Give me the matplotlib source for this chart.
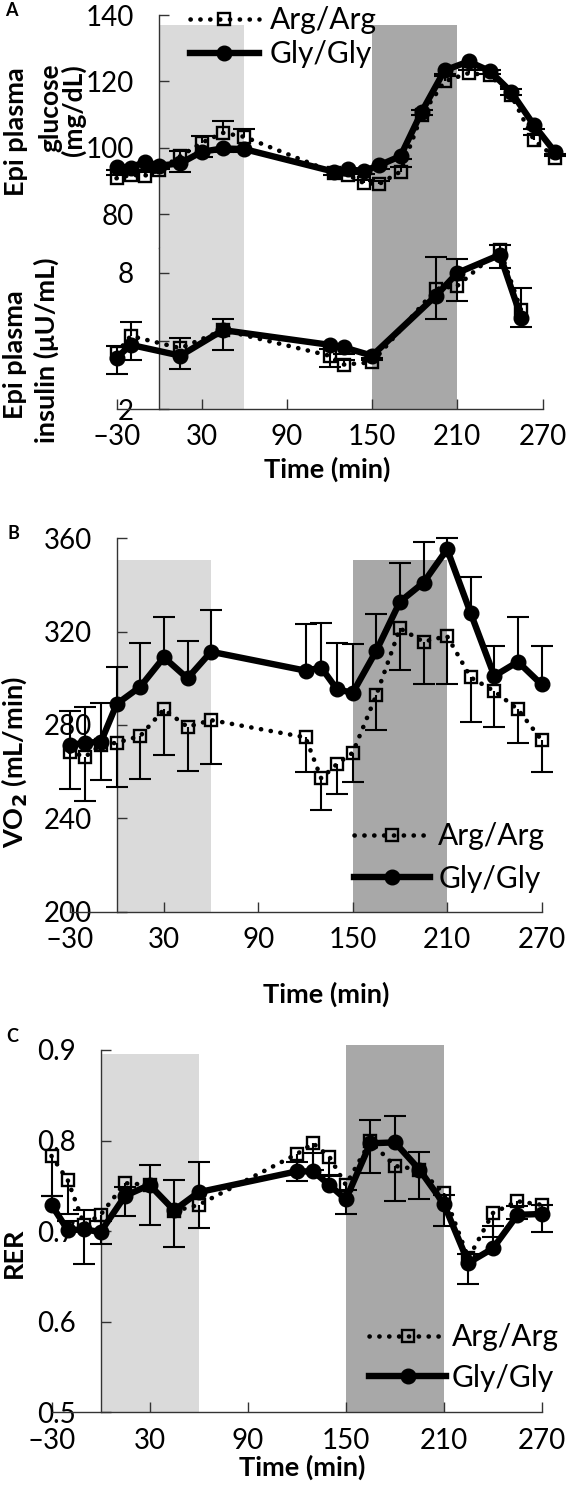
import numpy as np
import matplotlib
matplotlib.use("Agg")
import matplotlib.pyplot as plt
from matplotlib.lines import Line2D

plt.rcParams['font.family'] = ['Lato', 'DejaVu Sans']
plt.rcParams['mathtext.fontset'] = 'dejavusans'

# ---------------- data ----------------
series_names = ["Arg/Arg", "Gly/Gly"]

# Panel A - glucose
t_glu = [-30, -20, -10, 0, 15, 30, 45, 60, 123, 133, 144, 155, 170, 185, 201, 218, 233, 248, 264, 279]
glu_arg = [90.8, 91.8, 91.6, 93.3, 97.5, 101.5, 104.5, 103.3, 92.5, 91.8, 89.4, 89.1, 92.8, 109.9, 120.0, 122.5, 121.8, 115.8, 102.3, 97.0]
glu_arg_err = [1.0, 1.0, 1.0, 1.0, 1.5, 2.0, 3.6, 2.5, 1.0, 1.0, 1.0, 1.0, 1.5, 1.5, 1.5, 1.0, 1.5, 2.0, 1.5, 1.0]
glu_gly = [94.3, 94.0, 95.8, 94.6, 95.3, 98.8, 99.8, 99.6, 92.8, 93.5, 93.0, 94.7, 97.5, 110.9, 123.3, 126.0, 123.1, 116.8, 106.8, 98.6]
glu_gly_err = [1.0, 1.0, 1.0, 1.0, 2.5, 1.5, 1.0, 1.0, 1.0, 1.0, 1.0, 1.0, 1.0, 1.0, 1.0, 1.0, 1.0, 1.0, 1.0, 1.0]

# Panel A - insulin
t_ins = [-30, -20, 15, 45, 120, 130, 150, 195, 210, 240, 255]
ins_arg = [4.46, 5.22, 4.68, 5.48, 4.35, 3.96, 4.06, 7.29, 7.43, 9.03, 6.35]
ins_arg_err = [0.3, 0.6, 0.44, 0.48, 0.3, 0.2, 0.2, 1.4, 1.17, 0.2, 0.97]
ins_gly = [4.25, 4.83, 4.35, 5.48, 4.83, 4.72, 4.35, 7.0, 8.0, 8.8, 6.03]
ins_gly_err = [0.7, 0.67, 0.6, 0.9, 0.96, 0.3, 0.2, 1.04, 1.22, 0.6, 0.43]

# Panel B - VO2
t_resp = [-30, -20, -10, 0, 15, 30, 45, 60, 120, 130, 140, 150, 165, 180, 195, 210, 225, 240, 255, 270]
vo2_arg = [268.5, 266.4, 271.5, 272.4, 275.3, 286.7, 279.2, 282.1, 274.7, 257.1, 263.3, 268.1, 292.8, 321.4, 315.7, 318.1, 300.4, 294.5, 286.7, 273.6]
vo2_arg_err = [16, 19, 15, 19, 18.6, 19.6, 19, 19, 14.7, 13.5, 13, 12.7, 15, 17.8, 18, 20.5, 19, 15.3, 14.3, 13.6]
vo2_gly = [271.4, 272.4, 272.8, 289, 296.4, 309, 300, 311.4, 303.3, 304.6, 295.3, 293.8, 311.8, 332.8, 341, 355.3, 327.9, 301, 307.1, 297.4]
vo2_gly_err = [14.7, 15.4, 16.7, 16, 18.6, 17.4, 16, 18, 20, 19, 19.7, 21, 15.7, 16.5, 17.5, 5, 15.6, 12.8, 19.3, 16.4]

# Panel C - RER
rer_arg = [0.783, 0.756, 0.707, 0.718, 0.753, 0.751, 0.722, 0.729, 0.785, 0.797, 0.782, 0.751, 0.799, 0.772, 0.768, 0.742, 0.670, 0.720, 0.733, 0.729]
rer_arg_err = [0.044, 0.037, 0.043, 0.032, 0.036, 0.044, 0.039, 0.026, 0.030, 0.030, 0.020, 0.032, 0.035, 0.039, 0.033, 0.036, 0.028, 0.026, 0.020, 0.030]
rer_gly = [0.729, 0.701, 0.702, 0.699, 0.739, 0.751, 0.723, 0.743, 0.766, 0.766, 0.751, 0.735, 0.797, 0.798, 0.768, 0.730, 0.665, 0.681, 0.718, 0.719]
rer_gly_err = [0.010, 0.010, 0.021, 0.012, 0.010, 0.022, 0.034, 0.033, 0.010, 0.020, 0.010, 0.010, 0.026, 0.029, 0.019, 0.010, 0.010, 0.025, 0.010, 0.010]

shade_start = [0, 150]
shade_end = [60, 210]
shade_colors = ["#dadada", "#a8a8a8"]

x_ticks = [-30, 30, 90, 150, 210, 270]
x_ticklabels = ["\u201330", "30", "90", "150", "210", "270"]

# ---------------- style ----------------
FS_TICK = 20
FS_LAB = 19.5
FS_LEG = 21.5
ARG_KW = dict(color="black", lw=3.3, ls=(0, (0.05, 2.1)), dash_capstyle="round",
              marker="s", ms=8.5, mfc="none", mec="black", mew=1.7)
GLY_KW = dict(color="black", lw=4.6, ls="-", marker="o", ms=10.5, mfc="black", mec="black")
ERR_KW = dict(fmt="none", ecolor="black", elinewidth=1.5, capsize=8, capthick=1.5)

fig = plt.figure(figsize=(5.67, 14.89), dpi=100)
W, H = 567.0, 1489.0


def add_axes_px(x0, x1, ytop, ybot):
    return fig.add_axes([x0 / W, 1 - ybot / H, (x1 - x0) / W, (ybot - ytop) / H])


def style_axes(ax, bottom=True):
    ax.set_facecolor("none")
    for s in ["top", "right"]:
        ax.spines[s].set_visible(False)
    ax.spines["left"].set_position(("data", 0))
    ax.spines["left"].set_linewidth(1.0)
    ax.spines["left"].set_color("#333333")
    if bottom:
        ax.spines["bottom"].set_linewidth(1.0)
        ax.spines["bottom"].set_color("#333333")
    else:
        ax.spines["bottom"].set_visible(False)
    ax.tick_params(axis="both", direction="in", length=7, width=1.0, color="#333333",
                   labelsize=FS_TICK, pad=18)
    ax.tick_params(axis="x", pad=11)
    ax.set_xlim(-30, 270)


def shade(ax, top, bottom):
    for s, e, c in zip(shade_start, shade_end, shade_colors):
        ax.bar(s, top - bottom, width=e - s, bottom=bottom, align="edge",
               color=c, zorder=0, linewidth=0)


def one_sided(ax, t, v, err, up):
    v = np.asarray(v, float)
    e = np.asarray(err, float)
    z = np.zeros_like(e)
    yerr = [z, e] if up else [e, z]
    _, caps, _ = ax.errorbar(t, v, yerr=yerr, zorder=3, clip_on=False, **ERR_KW)
    for cl in caps:
        if np.allclose(cl.get_ydata(), v):
            cl.set_visible(False)
        cl.set_clip_on(False)


def plot_pair(ax, t1, a, aerr, g, gerr, arg_up=True):
    one_sided(ax, t1, a, aerr, arg_up)
    one_sided(ax, t1, g, gerr, not arg_up)
    ax.plot(t1, a, zorder=4, clip_on=False, **ARG_KW)
    ax.plot(t1, g, zorder=5, clip_on=False, **GLY_KW)


def legend(ax, bx, by, spacing, hlen, hpad):
    h = [Line2D([], [], **ARG_KW), Line2D([], [], **GLY_KW)]
    lg = ax.legend(h, series_names, loc="upper left", bbox_to_anchor=(bx / W, 1 - by / H),
                   bbox_transform=fig.transFigure, frameon=False, fontsize=FS_LEG,
                   numpoints=1, handlelength=hlen, handletextpad=hpad,
                   labelspacing=spacing, borderpad=0, borderaxespad=0)
    lg.set_zorder(10)


def vlabel(x, y, s, fs=FS_LAB):
    fig.text(x / W, 1 - y / H, s, rotation=90, ha="center", va="center",
             fontsize=fs, fontweight="bold")


# ---------------- Panel A: glucose ----------------
axg = add_axes_px(116.5, 542.5, 15, 248)
style_axes(axg, bottom=False)
axg.set_ylim(69.8, 140)
axg.set_yticks([80, 100, 120, 140])
axg.set_xticks([])
shade(axg, 137, 69.8)
plot_pair(axg, t_glu, glu_arg, glu_arg_err, glu_gly, glu_gly_err, arg_up=True)
legend(axg, 190, 6, 0.2, 2.3, 0.36)

# ---------------- Panel A: insulin ----------------
axi = add_axes_px(116.5, 542.5, 248, 409)
style_axes(axi)
axi.set_ylim(2, 9.1)
axi.set_yticks([2, 5, 8])
axi.set_yticklabels(["2", "", "8"])
axi.set_xticks(x_ticks)
axi.set_xticklabels(x_ticklabels)
shade(axi, 9.1, 2)
plot_pair(axi, t_ins, ins_arg, ins_arg_err, ins_gly, ins_gly_err, arg_up=True)

fig.text(327 / W, 1 - 469 / H, "Time (min)", ha="center", va="center", fontsize=FS_LAB, fontweight="bold")
vlabel(16, 132, "Epi plasma")
vlabel(50, 108, "glucose", 19)
vlabel(73, 110, "(mg/dL)", 19)
vlabel(15, 355, "Epi plasma")
vlabel(46, 350, "insulin (\u03bcU/mL)")
fig.text(11 / W, 1 - 10 / H, "A", ha="center", va="center", fontsize=13, fontweight="bold")

# ---------------- Panel B: VO2 ----------------
axb = add_axes_px(69.5, 541.5, 538.3, 911.7)
style_axes(axb)
axb.set_ylim(200, 360)
axb.set_yticks([200, 240, 280, 320, 360])
axb.set_xticks(x_ticks)
axb.set_xticklabels(x_ticklabels)
shade(axb, 350.5, 200)
plot_pair(axb, t_resp, vo2_arg, vo2_arg_err, vo2_gly, vo2_gly_err, arg_up=False)
legend(axb, 354, 822, 0.5, 2.55, 0.27)
fig.text(326 / W, 1 - 994 / H, "Time (min)", ha="center", va="center", fontsize=FS_LAB, fontweight="bold")
fig.text(14 / W, 1 - 762 / H, r"VO$_\mathbf{2}$ (mL/min)", rotation=90, ha="center", va="center",
         fontsize=FS_LAB, fontweight="bold")
fig.text(13 / W, 1 - 533 / H, "B", ha="center", va="center", fontsize=13, fontweight="bold")

# ---------------- Panel C: RER ----------------
axc = add_axes_px(51.5, 542, 1050, 1412.3)
style_axes(axc)
axc.set_ylim(0.5, 0.9)
axc.set_yticks([0.5, 0.6, 0.7, 0.8, 0.9])
axc.set_xticks(x_ticks)
axc.set_xticklabels(x_ticklabels)
for s, e, c, top in zip(shade_start, shade_end, shade_colors, [0.896, 0.905]):
    axc.bar(s, top - 0.5, width=e - s, bottom=0.5, align="edge", color=c, zorder=0,
            linewidth=0, clip_on=False)
plot_pair(axc, t_resp, rer_arg, rer_arg_err, rer_gly, rer_gly_err, arg_up=False)
legend(axc, 369, 1323, 0.42, 2.58, 0.18)
fig.text(302 / W, 1 - 1467 / H, "Time (min)", ha="center", va="center", fontsize=FS_LAB, fontweight="bold")
vlabel(14, 1253, "RER")
fig.text(12 / W, 1 - 1036 / H, "C", ha="center", va="center", fontsize=13, fontweight="bold")

fig.savefig("out.png", dpi=100)
